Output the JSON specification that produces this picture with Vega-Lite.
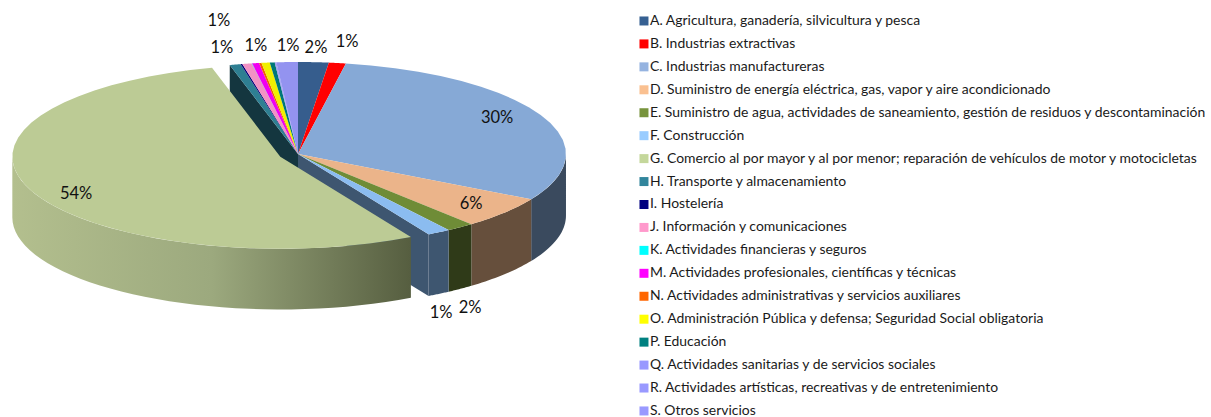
{"$schema":"https://vega.github.io/schema/vega-lite/v6.json","width":1211,"height":417,"padding":0,"autosize":{"type":"none"},"background":"white","config":{"view":{"stroke":null},"font":"Lato"},
"data":{"values":[
{"sector":"A. Agricultura, ganadería, silvicultura y pesca","pct":1.84},
{"sector":"B. Industrias extractivas","pct":1.02},
{"sector":"C. Industrias manufactureras","pct":30.34},
{"sector":"D. Suministro de energía eléctrica, gas, vapor y aire acondicionado","pct":5.6},
{"sector":"E. Suministro de agua, actividades de saneamiento, gestión de residuos y descontaminación","pct":1.7},
{"sector":"F. Construcción","pct":1.4},
{"sector":"G. Comercio al por mayor y al por menor; reparación de vehículos de motor y motocicletas","pct":54},
{"sector":"H. Transporte y almacenamiento","pct":0.67},
{"sector":"I. Hostelería","pct":0.1},
{"sector":"J. Información y comunicaciones","pct":0.57},
{"sector":"K. Actividades financieras y seguros","pct":0.02},
{"sector":"M. Actividades profesionales, científicas y técnicas","pct":0.42},
{"sector":"N. Actividades administrativas y servicios auxiliares","pct":0.14},
{"sector":"O. Administración Pública y defensa; Seguridad Social obligatoria","pct":0.5},
{"sector":"P. Educación","pct":0.29},
{"sector":"Q. Actividades sanitarias y de servicios sociales","pct":0.05},
{"sector":"R. Actividades artísticas, recreativas y de entretenimiento","pct":0.05},
{"sector":"S. Otros servicios","pct":1.29}
]},
"transform":[
{"window":[{"op":"sum","field":"pct","as":"cum"}],"sort":[{"field":"sector","order":"ascending"}]},
{"calculate":"substring(datum.sector,0,1)","as":"letter"},
{"calculate":"2*PI*(datum.cum-datum.pct)/100","as":"a0"},
{"calculate":"2*PI*datum.cum/100","as":"a1"},
{"calculate":"datum.letter=='G'?-0.066:0","as":"ox"},
{"calculate":"datum.letter=='G'?-0.03:0","as":"oy"}
],
"resolve":{"scale":{"fill":"independent","color":"independent"}},
"layer":[
{"transform":[
{"filter":"datum.letter!='G'"},
{"calculate":"clamp(datum.a0,PI/2,3*PI/2)","as":"w0"},
{"calculate":"clamp(datum.a1,PI/2,3*PI/2)","as":"w1"},
{"filter":"datum.w1>datum.w0"},
{"calculate":"[0,0.05,0.1,0.15,0.2,0.25,0.3,0.35,0.4,0.45,0.5,0.55,0.6,0.65,0.7,0.75,0.8,0.85,0.9,0.95,1]","as":"t"},
{"flatten":["t"]},
{"calculate":"datum.w0+datum.t*(datum.w1-datum.w0)","as":"th"},
{"calculate":"sin(datum.th)","as":"x"},
{"calculate":"cos(datum.th)","as":"y"},
{"calculate":"datum.y-0.67","as":"yb"}
],
"mark":{"type":"area","strokeWidth":0},
"encoding":{
"x":{"field":"x","type":"quantitative","axis":null,"scale":{"domain":[-1.112,3.407],"nice":false,"zero":false}},
"y":{"field":"y","type":"quantitative","axis":null,"scale":{"domain":[-2.859,1.674],"nice":false,"zero":false}},
"y2":{"field":"yb"},
"fill":{"field":"letter","type":"nominal","legend":null,"scale":{"domain":["C","D","E","F"],"range":["#3a4a5e","#664f3c","#2f3a18","#3e5670"]}}
}},
{"transform":[
{"filter":"datum.letter=='F'||datum.letter=='H'"},
{"calculate":"datum.letter=='F'?datum.a1:datum.a0","as":"th"},
{"calculate":"[0,1]","as":"t"},
{"flatten":["t"]},
{"calculate":"datum.t*sin(datum.th)","as":"x"},
{"calculate":"datum.t*cos(datum.th)","as":"y"},
{"calculate":"datum.y-0.67","as":"yb"}
],
"mark":{"type":"area","strokeWidth":0},
"encoding":{
"x":{"field":"x","type":"quantitative","axis":null,"scale":{"domain":[-1.112,3.407],"nice":false,"zero":false}},
"y":{"field":"y","type":"quantitative","axis":null,"scale":{"domain":[-2.859,1.674],"nice":false,"zero":false}},
"y2":{"field":"yb"},
"fill":{"field":"letter","type":"nominal","legend":null,"scale":{"domain":["F","H"],"range":["#3e5670","#14363f"]}}
}},
{"transform":[
{"filter":"datum.letter!='G'"},
{"calculate":"[-1,0,0.05,0.1,0.15,0.2,0.25,0.3,0.35,0.4,0.45,0.5,0.55,0.6,0.65,0.7,0.75,0.8,0.85,0.9,0.95,1]","as":"t"},
{"flatten":["t"]},
{"calculate":"datum.a0+datum.t*(datum.a1-datum.a0)","as":"th"},
{"calculate":"datum.t<0?0:sin(datum.th)","as":"x"},
{"calculate":"datum.t<0?0:cos(datum.th)","as":"y"}
],
"mark":{"type":"line","strokeWidth":0,"filled":true},
"encoding":{
"x":{"field":"x","type":"quantitative","axis":null,"scale":{"domain":[-1.112,3.407],"nice":false,"zero":false}},
"y":{"field":"y","type":"quantitative","axis":null,"scale":{"domain":[-2.859,1.674],"nice":false,"zero":false}},
"order":{"field":"t","type":"quantitative"},
"fill":{"field":"letter","type":"nominal","legend":null,"scale":{"domain":["A","B","C","D","E","F","H","I","J","K","M","N","O","P","Q","R","S"],"range":["#365d8d","#ff0000","#86a9d6","#ebb48a","#6f8c37","#8bbcf0","#2e7f92","#000078","#f292c4","#00f0f0","#f000f0","#f06000","#f0f000","#007878","#9393f0","#9393f0","#9393f0"]}}
}},
{"transform":[
{"filter":"datum.letter=='G'"},
{"calculate":"clamp(datum.a0,PI/2,3*PI/2)","as":"w0"},
{"calculate":"clamp(datum.a1,PI/2,3*PI/2)","as":"w1"},
{"calculate":"[0,0.025,0.05,0.075,0.1,0.125,0.15,0.175,0.2,0.225,0.25,0.275,0.3,0.325,0.35,0.375,0.4,0.425,0.45,0.475,0.5,0.525,0.55,0.575,0.6,0.625,0.65,0.675,0.7,0.725,0.75,0.775,0.8,0.825,0.85,0.875,0.9,0.925,0.95,0.975,1]","as":"t"},
{"flatten":["t"]},
{"calculate":"datum.w0+datum.t*(datum.w1-datum.w0)","as":"th"},
{"calculate":"datum.ox+sin(datum.th)","as":"x"},
{"calculate":"datum.oy+cos(datum.th)","as":"y"},
{"calculate":"datum.y-0.66","as":"yb"}
],
"mark":{"type":"area","strokeWidth":0,"fill":{"gradient":"linear","x1":0,"y1":0,"x2":1,"y2":0,"stops":[{"offset":0,"color":"#b3bf8e"},{"offset":0.5,"color":"#9ca97e"},{"offset":1,"color":"#565e40"}]}},
"encoding":{
"x":{"field":"x","type":"quantitative","axis":null,"scale":{"domain":[-1.112,3.407],"nice":false,"zero":false}},
"y":{"field":"y","type":"quantitative","axis":null,"scale":{"domain":[-2.859,1.674],"nice":false,"zero":false}},
"y2":{"field":"yb"}
}},
{"transform":[
{"filter":"datum.letter=='G'"},
{"calculate":"[-1,0,0.025,0.05,0.075,0.1,0.125,0.15,0.175,0.2,0.225,0.25,0.275,0.3,0.325,0.35,0.375,0.4,0.425,0.45,0.475,0.5,0.525,0.55,0.575,0.6,0.625,0.65,0.675,0.7,0.725,0.75,0.775,0.8,0.825,0.85,0.875,0.9,0.925,0.95,0.975,1]","as":"t"},
{"flatten":["t"]},
{"calculate":"datum.a0+datum.t*(datum.a1-datum.a0)","as":"th"},
{"calculate":"datum.ox+(datum.t<0?0:sin(datum.th))","as":"x"},
{"calculate":"datum.oy+(datum.t<0?0:cos(datum.th))","as":"y"}
],
"mark":{"type":"line","strokeWidth":0,"filled":true,"fill":"#bccb95"},
"encoding":{
"x":{"field":"x","type":"quantitative","axis":null,"scale":{"domain":[-1.112,3.407],"nice":false,"zero":false}},
"y":{"field":"y","type":"quantitative","axis":null,"scale":{"domain":[-2.859,1.674],"nice":false,"zero":false}},
"order":{"field":"t","type":"quantitative"}
}},
{"transform":[
{"filter":"indexof(['A','B','C','D','E','F','G','H','J','O','S'],datum.letter)>=0"},
{"calculate":"format(round(datum.pct),'d')+'%'","as":"label"},
{"calculate":"{A:0.067,B:0.183,C:0.743,D:0.646,E:0.642,F:0.534,G:-0.828,H:-0.284,J:-0.295,O:-0.157,S:-0.037}[datum.letter]","as":"lx"},
{"calculate":"{A:1.152,B:1.217,C:0.391,D:-0.543,E:-1.674,F:-1.728,G:-0.435,H:1.152,J:1.446,O:1.174,S:1.174}[datum.letter]","as":"ly"}
],
"mark":{"type":"text","font":"Lato","fontSize":16.5,"color":"#111111","align":"center","baseline":"middle"},
"encoding":{
"x":{"field":"lx","type":"quantitative","axis":null,"scale":{"domain":[-1.112,3.407],"nice":false,"zero":false}},
"y":{"field":"ly","type":"quantitative","axis":null,"scale":{"domain":[-2.859,1.674],"nice":false,"zero":false}},
"text":{"field":"label","type":"nominal"}
}},
{"mark":{"type":"square","size":0},
"encoding":{
"color":{"field":"sector","type":"nominal","sort":null,
"scale":{"domain":["A. Agricultura, ganadería, silvicultura y pesca","B. Industrias extractivas","C. Industrias manufactureras","D. Suministro de energía eléctrica, gas, vapor y aire acondicionado","E. Suministro de agua, actividades de saneamiento, gestión de residuos y descontaminación","F. Construcción","G. Comercio al por mayor y al por menor; reparación de vehículos de motor y motocicletas","H. Transporte y almacenamiento","I. Hostelería","J. Información y comunicaciones","K. Actividades financieras y seguros","M. Actividades profesionales, científicas y técnicas","N. Actividades administrativas y servicios auxiliares","O. Administración Pública y defensa; Seguridad Social obligatoria","P. Educación","Q. Actividades sanitarias y de servicios sociales","R. Actividades artísticas, recreativas y de entretenimiento","S. Otros servicios"],
"range":["#366092","#ff0000","#95b3e0","#fac090","#77933c","#99ccff","#c4d79b","#31859c","#000080","#ff99cc","#00ffff","#ff00ff","#ff6600","#ffff00","#008080","#9999ff","#9999ff","#9999ff"]},
"legend":{"orient":"none","legendX":637,"legendY":14,"title":null,"symbolType":"square","symbolSize":81,"symbolStrokeWidth":0,"labelFont":"Lato","labelFontSize":13.95,"labelColor":"#1a1a1a","labelLimit":600,"labelOffset":-1,"rowPadding":7.94,"padding":0,"symbolOpacity":1}}
}}
]}
